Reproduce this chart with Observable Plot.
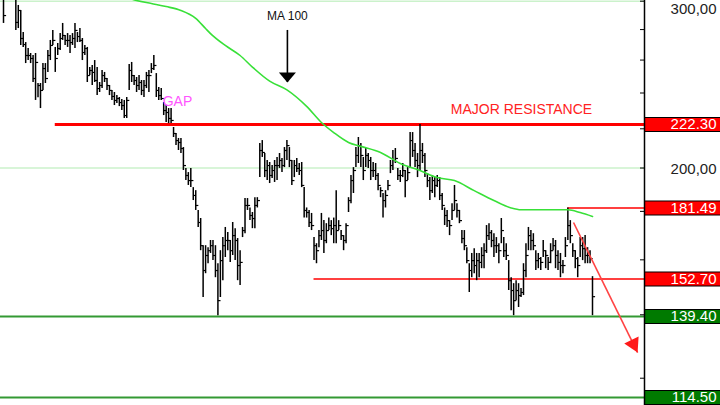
<!DOCTYPE html>
<html><head><meta charset="utf-8">
<script src="https://cdn.jsdelivr.net/npm/d3@7"></script>
<script src="https://cdn.jsdelivr.net/npm/@observablehq/plot@0.6"></script>
<style>
html,body{margin:0;padding:0;background:#fff;overflow:hidden;}
#wrap{position:relative;width:720px;height:405px;overflow:hidden;background:#fff;}
#wrap svg{position:absolute;top:0;overflow:hidden;}
</style></head><body><div id="wrap"></div>
<script>
// ---- data (prices) ----
const high=[307.9,323.3,335.4,331.3,323.3,307.9,296.9,293.3,278.0,271.3,
267.4,264.2,262.9,264.2,245.6,245.6,257.8,257.8,266.1,272.7,
279.4,268.1,270.7,277.3,284.2,276.0,277.3,276.0,277.3,284.2,
278.0,280.7,274.0,269.4,268.1,255.3,256.6,259.7,255.3,246.2,
253.5,252.3,248.6,244.4,241.5,240.3,238.5,237.4,236.2,235.7,
237.4,257.2,258.5,250.4,249.2,250.4,247.4,247.4,252.3,253.5,
257.8,262.9,251.6,243.2,242.6,234.5,232.8,231.1,231.1,220.7,
217.5,214.9,214.9,210.2,199.8,197.8,199.8,190.7,189.3,180.4,
176.9,165.6,165.6,164.8,167.7,167.7,165.6,158.5,163.6,168.9,
173.1,171.0,167.7,175.2,172.6,168.5,163.6,173.1,185.7,185.7,
181.5,179.5,186.1,186.1,212.3,213.8,207.2,203.7,202.7,201.2,
203.7,205.2,207.2,204.7,210.2,213.8,210.2,203.7,203.7,204.7,
202.2,202.7,190.7,181.5,180.4,179.1,168.9,166.4,171.8,179.1,
176.0,174.7,177.1,176.0,177.1,189.3,176.0,171.8,169.7,174.7,
186.1,196.4,200.2,210.2,215.4,212.3,205.2,209.7,207.2,205.2,
202.7,202.2,197.3,190.7,188.0,189.3,194.0,203.7,208.7,209.7,
199.8,198.8,202.2,198.8,200.2,218.0,218.0,212.3,207.2,222.3,
212.3,207.2,197.3,195.4,196.4,195.4,196.4,195.4,188.0,181.5,
180.4,176.0,183.4,191.7,183.4,180.4,171.8,171.8,164.8,158.5,
162.5,164.4,162.5,162.5,164.8,166.4,173.9,174.7,171.8,170.5,
168.9,166.4,176.9,168.9,166.4,159.7,153.2,151.0,152.1,151.0,
149.2,158.5,166.4,173.1,171.8,170.5,163.6,162.5,160.9,167.7,
163.6,160.9,166.4,168.5,167.7,163.6,162.5,159.7,168.9,181.5,
176.0,166.4,163.6,160.9,168.9,168.9,169.7,164.8,163.6,153.6];
const low=[284.2,302.0,311.7,307.9,302.7,279.4,280.7,269.4,268.1,257.8,
259.7,257.8,246.2,235.7,237.3,231.1,241.5,245.6,252.3,259.7,
269.4,252.3,262.9,266.1,272.7,269.4,268.1,264.2,269.4,267.4,
271.3,271.3,259.7,262.9,246.2,250.4,244.4,246.2,238.5,240.3,
242.6,246.2,241.5,238.5,235.7,232.8,233.9,232.2,230.0,225.6,
225.6,241.5,246.2,244.4,240.3,241.5,238.5,237.4,242.6,240.3,
251.6,253.5,237.4,235.7,235.7,227.2,223.4,222.8,222.8,215.4,
211.2,208.7,207.2,198.8,194.0,191.7,190.7,184.8,180.4,173.1,
163.6,146.0,154.7,158.5,162.5,159.7,153.2,139.7,146.0,152.1,
160.9,163.6,159.0,161.7,159.7,152.1,150.3,168.9,170.5,180.4,
176.0,172.6,172.6,181.5,195.4,205.2,195.4,194.0,192.6,195.0,
193.1,194.0,199.8,197.8,200.2,203.7,200.2,191.7,195.4,197.8,
196.4,190.7,177.1,177.1,173.1,171.8,159.7,158.5,164.8,167.7,
162.5,166.4,171.8,169.7,166.4,166.4,171.8,167.7,163.6,166.4,
179.5,183.4,188.0,200.2,202.2,200.2,194.0,200.2,199.8,194.0,
195.4,194.0,189.3,186.1,177.1,181.5,189.3,197.3,198.8,202.2,
194.0,193.1,195.4,186.1,194.0,199.8,205.2,200.2,195.4,198.8,
202.2,195.4,190.7,184.8,188.0,186.1,190.7,184.8,180.4,173.9,
173.1,169.7,176.0,180.4,177.1,174.7,166.4,163.6,158.5,147.8,
153.2,154.7,152.1,153.2,156.6,156.6,162.5,167.7,164.8,160.9,
162.5,158.5,166.4,160.9,159.7,148.5,141.4,139.7,144.9,142.5,
146.0,146.7,153.2,163.6,163.6,163.6,155.9,156.6,155.9,160.9,
156.6,155.9,158.5,163.6,156.6,155.9,153.2,154.7,160.9,167.7,
166.4,160.9,156.6,153.2,160.9,159.7,158.5,158.5,158.5,139.7];
const close=[289.7,315.5,327.3,311.7,307.9,284.9,293.3,274.0,270.0,262.9,
262.9,261.0,248.6,258.5,244.4,241.5,254.7,248.6,262.9,269.4,
272.7,261.0,267.4,274.0,276.0,272.7,272.7,271.3,274.0,279.4,
275.3,272.7,264.8,267.4,250.4,253.5,252.3,247.4,242.6,244.4,
250.4,248.6,244.4,241.5,238.0,235.7,236.8,234.5,232.8,227.2,
235.7,253.5,250.4,247.4,244.4,246.2,241.5,244.4,250.4,250.4,
254.7,256.6,241.5,238.5,236.8,230.0,228.9,225.6,224.5,217.5,
213.8,212.8,209.7,201.2,196.4,194.0,194.0,187.1,182.6,175.2,
165.6,155.9,161.7,163.6,165.6,161.7,155.9,144.9,159.7,165.6,
167.7,167.7,163.6,169.7,167.7,157.8,159.0,171.8,182.6,182.6,
178.2,176.9,182.6,184.8,208.7,207.7,198.8,201.2,196.4,198.8,
201.2,201.2,203.7,201.2,208.7,211.2,203.7,194.0,201.2,199.8,
198.8,191.7,180.4,179.5,175.2,173.9,165.6,163.6,169.7,171.8,
167.7,171.8,173.9,172.6,173.9,171.8,173.9,169.7,167.7,173.9,
184.8,194.0,198.8,206.2,211.2,206.2,198.8,206.2,203.7,198.8,
198.8,196.4,191.7,189.3,184.8,187.1,191.7,201.2,203.7,204.7,
196.4,196.4,198.8,194.0,197.8,213.8,208.7,203.7,201.2,208.7,
206.2,198.8,194.0,189.3,194.0,191.7,194.0,187.1,182.6,178.2,
176.0,173.9,180.4,184.8,180.4,176.0,168.5,165.6,159.7,155.9,
159.7,157.8,159.7,159.0,161.7,163.6,169.7,170.9,167.7,165.6,
165.6,163.6,171.8,163.6,161.7,152.1,148.5,144.9,148.5,146.7,
147.8,155.9,161.7,169.7,167.7,165.6,159.7,160.5,159.0,163.6,
161.7,159.0,163.6,165.6,161.7,159.0,157.8,157.8,165.6,173.9,
169.7,163.6,160.5,157.8,165.6,164.4,161.7,161.7,160.5,146.3];

// 100-day moving average, sampled at these bars
const maDay=[39,54,60,66,72,78,82,84,90,96,101,108,115,123,129,134,140,145,153,161,169,176,183,191,199,206,210,229,234,239];
const maValue=[311.7,300.5,298.3,296.1,293.3,287.7,280.7,277.3,269.4,262.9,255.6,247.0,241.8,232.3,223.4,218.0,212.8,210.8,207.7,202.2,198.8,195.4,194.0,189.3,184.8,181.5,180.7,180.7,179.5,177.8];

// price levels
const levelValues=[222.30,181.49,152.70,139.40,114.50];
const levelStartDay=[21,229,126,null,null];
const levelKind=["major","resistance","resistance","support","support"];

// right axis
const axisLabelValues=[300,200];
const tickValues=[120,140,160,180,200,220,240,260,280,300];

// annotations
const maNote={day:115.2,price:289.0,text:"MA 100",from:279.4,to:246.2};
const gapNote={day:70.6,price:234.8,text:"GAP"};
const resNote={day:210.2,price:230.5,text:"MAJOR RESISTANCE"};
const trendArrow={day1:231.3,price1:175.2,day2:257.3,price2:127.7};

// ---- build ----
const FONT="Liberation Sans, Arial, Helvetica, sans-serif";
const Y_DOMAIN=[112.3,300.5];
const X_DOMAIN=[-1.22,260.1];

const bars=high.map((h,i)=>({day:i,high:h,low:low[i],close:close[i]}));
const ma=maDay.map((d,i)=>({day:d,value:maValue[i]}));
const levels=levelValues.map((v,i)=>({v,start:levelStartDay[i],end:X_DOMAIN[1],kind:levelKind[i],label:v.toFixed(2)}));
const axisLabels=axisLabelValues.map(v=>({v,label:v.toFixed(2).replace(".",",")}));

const closeTick={draw(ctx){ctx.moveTo(0,0);ctx.lineTo(2.6,0);}};
function head(angleDeg,len,w){
  const a=angleDeg*Math.PI/180, ux=Math.cos(a), uy=Math.sin(a);
  const bx=-ux*len, by=-uy*len, px=-uy, py=ux;
  return {draw(ctx){ctx.moveTo(0,0);ctx.lineTo(bx+px*w/2,by+py*w/2);ctx.lineTo(bx-px*w/2,by-py*w/2);ctx.closePath();}};
}

const main=Plot.plot({
  width:644,height:405,margin:0,
  x:{domain:X_DOMAIN,axis:null},
  y:{type:"log",domain:Y_DOMAIN,axis:null},
  style:{background:"transparent",fontFamily:FONT,overflow:"hidden"},
  marks:[
    Plot.ruleY(axisLabelValues,{stroke:"#cbf2cb",strokeWidth:1.6}),
    Plot.ruleY(levels.filter(d=>d.kind==="support"),{y:"v",stroke:"#339933",strokeWidth:2}),
    Plot.ruleY(levels.filter(d=>d.kind==="resistance"),{y:"v",x1:"start",x2:"end",stroke:"#ff4040",strokeWidth:2}),
    Plot.ruleY(levels.filter(d=>d.kind==="major"),{y:"v",x1:"start",x2:"end",stroke:"#ff0000",strokeWidth:3}),
    Plot.ruleX(bars,{x:"day",y1:"low",y2:"high",stroke:"#000",strokeWidth:1.5}),
    Plot.dot(bars,{x:"day",y:"close",symbol:closeTick,r:2,fill:"none",stroke:"#000",strokeWidth:1.2}),
    Plot.line(ma,{x:"day",y:"value",stroke:"#38e038",strokeWidth:1.6,curve:"monotone-x"}),
    Plot.ruleX([maNote],{x:"day",y1:"from",y2:"to",stroke:"#000",strokeWidth:1.6}),
    Plot.dot([maNote],{x:"day",y:"to",symbol:head(90,10,17),r:5,fill:"#000",stroke:"none"}),
    Plot.text([maNote],{x:"day",y:"price",text:"text",fontSize:12,fill:"#111",fontFamily:FONT}),
    Plot.link([trendArrow],{x1:"day1",y1:"price1",x2:"day2",y2:"price2",stroke:"#ff4444",strokeWidth:1.6}),
    Plot.dot([trendArrow],{x:"day2",y:"price2",symbol:head(63.8,14,16),r:5,fill:"#ff1a1a",stroke:"none"}),
    Plot.text([gapNote],{x:"day",y:"price",text:"text",fontSize:14,fill:"#ff55ff",fontFamily:FONT}),
    Plot.text([resNote],{x:"day",y:"price",text:"text",fontSize:14,fill:"#ff2222",fontFamily:FONT})
  ]
});
main.style.left="0px";

const panel=Plot.plot({
  width:80,height:405,marginLeft:4,marginRight:0,marginTop:0,marginBottom:0,
  x:{domain:[0,1],axis:null},
  y:{type:"log",domain:Y_DOMAIN,axis:"left",ticks:tickValues,tickSize:4,tickFormat:()=>"",label:null},
  style:{background:"transparent",fontFamily:FONT,overflow:"hidden"},
  marks:[
    Plot.ruleY(levels,{y:"v",stroke:"#000",strokeWidth:15}),
    Plot.ruleY(levels.filter(d=>d.kind!=="support"),{y:"v",stroke:"#ff0000",strokeWidth:13}),
    Plot.ruleY(levels.filter(d=>d.kind==="support"),{y:"v",stroke:"#007a00",strokeWidth:13}),
    Plot.text(levels,{y:"v",text:"label",frameAnchor:"right",textAnchor:"end",dx:-4,fill:"#fff",fontSize:15,fontFamily:FONT}),
    Plot.text(axisLabels.filter(d=>d.v===300),{y:"v",text:"label",frameAnchor:"right",textAnchor:"end",dx:-4,dy:8,fill:"#222",fontSize:15,fontFamily:FONT}),
    Plot.text(axisLabels.filter(d=>d.v!==300),{y:"v",text:"label",frameAnchor:"right",textAnchor:"end",dx:-4,dy:1,fill:"#222",fontSize:15,fontFamily:FONT}),
    Plot.ruleX([0],{stroke:"#000",strokeWidth:1.5})
  ]
});
panel.style.left="640px";

const wrap=document.getElementById("wrap");
wrap.appendChild(main);
wrap.appendChild(panel);
</script></body></html>
